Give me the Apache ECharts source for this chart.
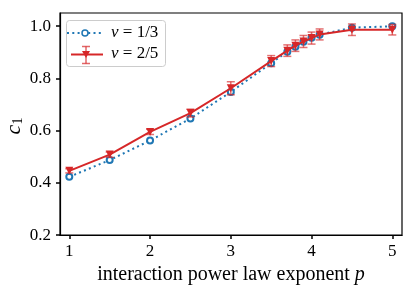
<!DOCTYPE html>
<html><head><meta charset="utf-8">
<script src="https://cdn.jsdelivr.net/npm/echarts@6/dist/echarts.min.js"></script>
<style>html,body{margin:0;padding:0;background:#fff}#c{width:416px;height:290px}</style>
</head><body><div id="c"></div>
<script>
const pVals = [1, 1.5, 2, 2.5, 3, 3.5, 3.7, 3.8, 3.9, 4.0, 4.1, 4.5, 5];
const nu13 = [0.423, 0.487, 0.562, 0.646, 0.748, 0.858, 0.902, 0.921, 0.940, 0.955, 0.967, 0.994, 0.999];
const nu25 = [0.446, 0.508, 0.595, 0.667, 0.762, 0.866, 0.906, 0.925, 0.941, 0.954, 0.968, 0.986, 0.986];
const nu25Err = [0.008, 0.010, 0.010, 0.015, 0.025, 0.021, 0.022, 0.022, 0.023, 0.023, 0.021, 0.022, 0.020];
const xTicks = [1, 2, 3, 4, 5];
const yTicks = [0.2, 0.4, 0.6, 0.8, 1.0];

const FONT = '"Liberation Serif", "DejaVu Serif", serif';
const BLUE = '#1f77b4', RED = '#d62728';
const chart = echarts.init(document.getElementById('c'), null, {renderer: 'canvas'});

const errData = pVals.map((p, i) => [p, nu25[i] - nu25Err[i], nu25[i] + nu25Err[i]]);

chart.setOption({
  animation: false,
  grid: {left: 60, right: 14, top: 13, bottom: 54, show: true, borderColor: '#000', borderWidth: 1.2, backgroundColor: 'transparent'},
  xAxis: {
    type: 'value', min: 0.885, max: 5.12,
    axisLine: {show: true, onZero: false, lineStyle: {color: '#000', width: 1.2}},
    axisTick: {show: true, length: 4, lineStyle: {color: '#000', width: 1.5}, customValues: xTicks},
    axisLabel: {customValues: xTicks, margin: 8, fontFamily: FONT, fontSize: 17, color: '#000'},
    splitLine: {show: false},
    name: '{n|interaction power law exponent }{i|p}', nameLocation: 'middle', nameGap: 28,
    nameTextStyle: {rich: {n: {fontFamily: FONT, fontSize: 20, color: '#000'}, i: {fontFamily: FONT, fontSize: 20, fontStyle: 'italic', color: '#000'}}}
  },
  yAxis: {
    type: 'value', min: 0.2, max: 1.05,
    axisLine: {show: true, onZero: false, lineStyle: {color: '#000', width: 1.2}},
    axisTick: {show: true, length: 4, lineStyle: {color: '#000', width: 1.5}, customValues: yTicks},
    axisLabel: {customValues: yTicks, margin: 9, fontFamily: FONT, fontSize: 17, color: '#000', formatter: v => v.toFixed(1)},
    splitLine: {show: false}
  },
  graphic: [
    {type: 'text', x: 14, y: 126, rotation: Math.PI / 2, style: {text: '{c|c}{s|1}', align: 'center', verticalAlign: 'middle',
      rich: {c: {fontFamily: FONT, fontSize: 22, fontStyle: 'italic', fill: '#000'}, s: {fontFamily: FONT, fontSize: 14, fill: '#000', verticalAlign: 'bottom', padding: [9, 0, 0, 0]}}}},
    {type: 'rect', shape: {x: 66.5, y: 20.5, width: 99, height: 46, r: 3}, style: {fill: 'rgba(255,255,255,0.8)', stroke: '#cccccc', lineWidth: 1}, z: 100},
    {type: 'line', shape: {x1: 67, y1: 33, x2: 102, y2: 33}, style: {stroke: BLUE, lineWidth: 2, lineDash: [2, 3.3]}, z: 101},
    {type: 'circle', shape: {cx: 85, cy: 33, r: 3}, style: {fill: '#fff', stroke: BLUE, lineWidth: 1.5}, z: 102},
    {type: 'text', x: 111, y: 33, style: {text: '{i|ν}{n| = 1/3}', verticalAlign: 'middle', rich: {i: {fontFamily: FONT, fontSize: 17, fontStyle: 'italic', fill: '#000'}, n: {fontFamily: FONT, fontSize: 17, fill: '#000'}}}, z: 102},
    {type: 'line', shape: {x1: 71, y1: 54.5, x2: 103, y2: 54.5}, style: {stroke: RED, lineWidth: 2}, z: 101},
    {type: 'line', shape: {x1: 86, y1: 46.5, x2: 86, y2: 63.5}, style: {stroke: 'rgba(214,39,40,0.7)', lineWidth: 1.5}, z: 101},
    {type: 'line', shape: {x1: 82, y1: 46.5, x2: 90, y2: 46.5}, style: {stroke: 'rgba(214,39,40,0.7)', lineWidth: 1.5}, z: 101},
    {type: 'line', shape: {x1: 82, y1: 63.5, x2: 90, y2: 63.5}, style: {stroke: 'rgba(214,39,40,0.7)', lineWidth: 1.5}, z: 101},
    {type: 'polygon', shape: {points: [[82, 51], [90, 51], [86, 58]]}, style: {fill: RED}, z: 102},
    {type: 'text', x: 111, y: 54, style: {text: '{i|ν}{n| = 2/5}', verticalAlign: 'middle', rich: {i: {fontFamily: FONT, fontSize: 17, fontStyle: 'italic', fill: '#000'}, n: {fontFamily: FONT, fontSize: 17, fill: '#000'}}}, z: 102}
  ],
  series: [
    {
      type: 'line', name: 'ν = 1/3', data: pVals.map((p, i) => [p, nu13[i]]),
      symbol: 'emptyCircle', symbolSize: 6, showAllSymbol: true,
      lineStyle: {color: BLUE, width: 2, type: [2, 3.3]},
      itemStyle: {color: BLUE, borderWidth: 1.5}, z: 3
    },
    {
      type: 'custom', name: 'err', data: errData, z: 4,
      renderItem: (params, api) => {
        const x = api.value(0);
        const lo = api.coord([x, api.value(1)]);
        const hi = api.coord([x, api.value(2)]);
        const st = {stroke: 'rgba(214,39,40,0.65)', lineWidth: 1.5};
        return {type: 'group', children: [
          {type: 'line', shape: {x1: lo[0], y1: lo[1], x2: hi[0], y2: hi[1]}, style: st},
          {type: 'line', shape: {x1: lo[0] - 4, y1: lo[1], x2: lo[0] + 4, y2: lo[1]}, style: st},
          {type: 'line', shape: {x1: hi[0] - 4, y1: hi[1], x2: hi[0] + 4, y2: hi[1]}, style: st}
        ]};
      }
    },
    {
      type: 'line', name: 'ν = 2/5', data: pVals.map((p, i) => [p, nu25[i]]),
      symbol: 'triangle', symbolRotate: 180, symbolSize: 8, showAllSymbol: true,
      lineStyle: {color: RED, width: 2}, itemStyle: {color: RED}, z: 5
    }
  ]
});
</script></body></html>
